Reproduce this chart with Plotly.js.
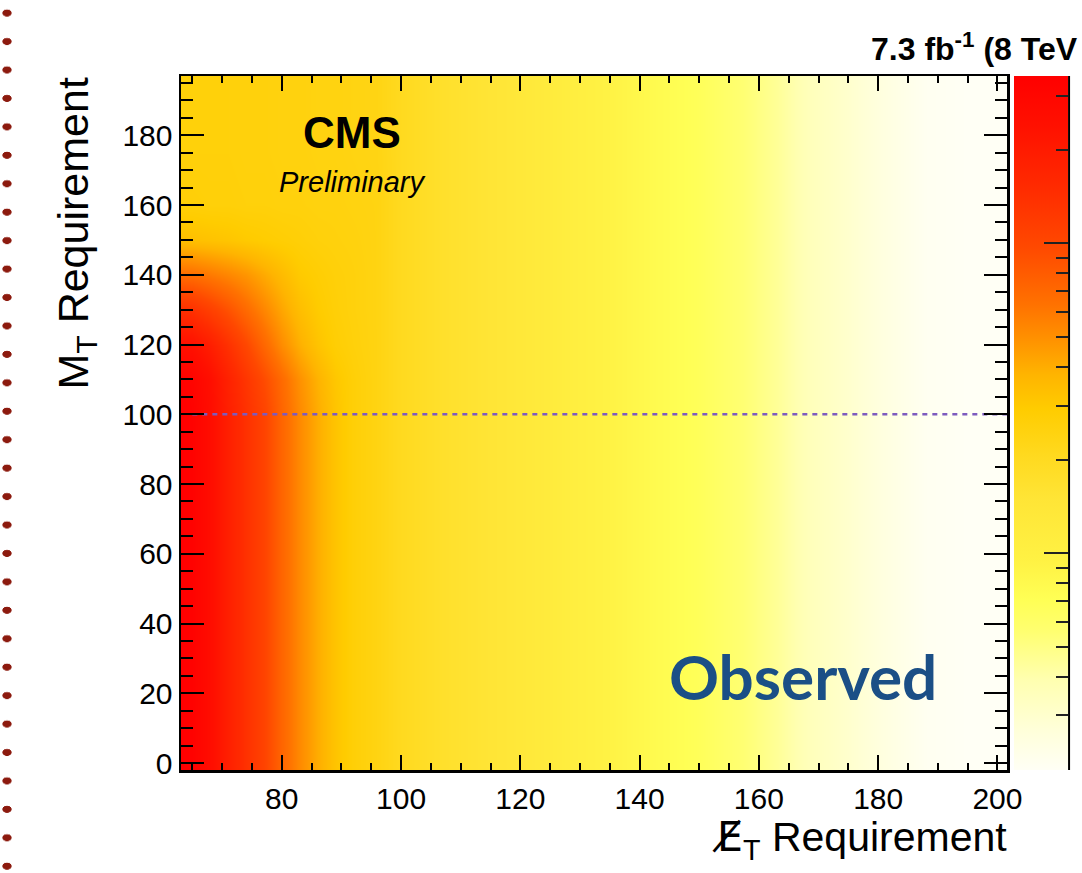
<!DOCTYPE html>
<html>
<head>
<meta charset="utf-8">
<script src="https://cdn.plot.ly/plotly-3.0.1.min.js"></script>
<style>
  html, body { margin: 0; padding: 0; background: #fff; }
  #wrap { position: relative; width: 1082px; height: 873px; }
  #chart { width: 1082px; height: 873px; }
  #dots {
    position: absolute; left: 0; top: 0; width: 14px; height: 873px; pointer-events: none;
    background-image: radial-gradient(5px 3.8px at 7px 14px, #8C1A0E 85%, rgba(140,26,14,0) 100%);
    background-size: 14px 28.45px; background-repeat: repeat-y; background-position: 0 -1px;
  }
</style>
</head>
<body>
<div id="wrap">
  <div id="chart"></div>
  <div id="dots"></div>
</div>
<script>
// MET requirement grid (x) and MT requirement grid (y)
const metReq = [62, 65, 68, 71, 74, 77, 80, 83, 86, 89, 92, 96, 100, 107, 115, 125, 134, 142, 150, 158, 163, 168, 175, 181, 188, 195, 203];
const mtReq = [-5, 50, 100, 110, 120, 130, 140, 150, 160, 175, 200];

const observed = [
  [36, 33, 26, 18.6, 13.8, 10.5, 7.2, 5.2, 4.0, 3.2, 2.7, 2.4, 2.05, 1.72, 1.50, 1.20, 0.95, 0.79, 0.68, 0.54, 0.45, 0.36, 0.30, 0.25, 0.21, 0.20, 0.20],
  [36, 33, 26, 18.6, 13.8, 10.5, 7.2, 5.2, 4.0, 3.2, 2.7, 2.4, 2.05, 1.72, 1.50, 1.20, 0.95, 0.79, 0.68, 0.54, 0.45, 0.36, 0.30, 0.25, 0.21, 0.20, 0.20],
  [36, 33, 26, 18.6, 13.8, 10.5, 7.2, 5.2, 4.0, 3.2, 2.7, 2.4, 2.05, 1.72, 1.50, 1.20, 0.95, 0.79, 0.68, 0.54, 0.45, 0.36, 0.30, 0.25, 0.21, 0.20, 0.20],
  [34, 31.6, 25, 17.8, 12.9, 9.5, 6.8, 4.9, 3.8, 3.1, 2.7, 2.4, 2.05, 1.72, 1.50, 1.20, 0.95, 0.79, 0.68, 0.54, 0.45, 0.36, 0.30, 0.25, 0.21, 0.20, 0.20],
  [25, 24, 19, 13.8, 10, 7.1, 5.1, 3.9, 3.2, 2.8, 2.6, 2.4, 2.05, 1.72, 1.50, 1.20, 0.95, 0.79, 0.68, 0.54, 0.45, 0.36, 0.30, 0.25, 0.21, 0.20, 0.20],
  [14.5, 13.8, 11.2, 8.9, 6.9, 5.4, 4.2, 3.4, 2.95, 2.7, 2.55, 2.4, 2.05, 1.72, 1.50, 1.20, 0.95, 0.79, 0.68, 0.54, 0.45, 0.36, 0.30, 0.25, 0.21, 0.20, 0.20],
  [6.8, 6.6, 6.0, 5.4, 4.8, 4.1, 3.5, 3.0, 2.8, 2.65, 2.55, 2.4, 2.05, 1.72, 1.50, 1.20, 0.95, 0.79, 0.68, 0.54, 0.45, 0.36, 0.30, 0.25, 0.21, 0.20, 0.20],
  [3.4, 3.35, 3.25, 3.15, 3.0, 2.9, 2.8, 2.7, 2.6, 2.55, 2.5, 2.4, 2.05, 1.72, 1.50, 1.20, 0.95, 0.79, 0.68, 0.54, 0.45, 0.36, 0.30, 0.25, 0.21, 0.20, 0.20],
  [2.7, 2.7, 2.65, 2.65, 2.6, 2.6, 2.55, 2.55, 2.5, 2.5, 2.45, 2.4, 2.05, 1.72, 1.50, 1.20, 0.95, 0.79, 0.68, 0.54, 0.45, 0.36, 0.30, 0.25, 0.21, 0.20, 0.20],
  [2.6, 2.6, 2.6, 2.6, 2.55, 2.55, 2.5, 2.5, 2.45, 2.45, 2.4, 2.35, 2.05, 1.72, 1.50, 1.20, 0.95, 0.79, 0.68, 0.54, 0.45, 0.36, 0.30, 0.25, 0.21, 0.20, 0.20],
  [2.6, 2.6, 2.6, 2.6, 2.55, 2.55, 2.5, 2.5, 2.45, 2.45, 2.4, 2.35, 2.05, 1.72, 1.50, 1.20, 0.95, 0.79, 0.68, 0.54, 0.45, 0.36, 0.30, 0.25, 0.21, 0.20, 0.20]
];

// M_T cut line
const cutLineX = [65, 202];
const cutLineY = [100, 100];

// Palette (log) range and tick marks
const paletteLow = 0.2;
const paletteHigh = 34.7;
const paletteMinorTicks = [0.3, 0.4, 0.5, 0.6, 0.7, 0.8, 0.9, 2, 3, 4, 5, 6, 7, 8, 9, 20, 30];
const paletteMajorTicks = [1, 10];

const logZ = observed.map(row => row.map(v => Math.log10(v)));

const palette = [
  [0.00, '#FFFFF5'], [0.06, '#FFFFD8'], [0.13, '#FFFFB0'], [0.20, '#FFFF70'],
  [0.245, '#FFFF55'], [0.30, '#FFF244'], [0.39, '#FFE536'], [0.455, '#FFD91E'],
  [0.52, '#FFCC00'], [0.57, '#FFB400'], [0.62, '#FF9200'], [0.67, '#FF7200'],
  [0.755, '#FF4800'], [0.835, '#FF2C00'], [0.93, '#FF1000'], [1.00, '#FF0000']
];

const cbBase = {
  x: 0.93912, xanchor: 'left', xpad: 0, y: 0.5, yanchor: 'middle', ypad: 0,
  len: 1, lenmode: 'fraction', thickness: 54, thicknessmode: 'pixels',
  outlinewidth: 0, showticklabels: false, tickmode: 'array',
  ticks: 'inside', tickwidth: 2, tickcolor: '#222'
};

const common = {
  type: 'heatmap', x: metReq, y: mtReq, z: logZ,
  zmin: Math.log10(paletteLow), zmax: Math.log10(paletteHigh),
  hoverinfo: 'skip'
};

const heat = Object.assign({}, common, {
  zsmooth: 'best', colorscale: palette, showscale: true,
  colorbar: Object.assign({}, cbBase, { tickvals: paletteMinorTicks.map(v => Math.log10(v)), ticklen: 12 })
});

const heatTicks = Object.assign({}, common, {
  zsmooth: false, colorscale: [[0, 'rgba(0,0,0,0)'], [1, 'rgba(0,0,0,0)']], showscale: true,
  colorbar: Object.assign({}, cbBase, { tickvals: paletteMajorTicks.map(v => Math.log10(v)), ticklen: 24 })
});

const cut = {
  type: 'scatter', mode: 'lines', x: cutLineX, y: cutLineY,
  line: { color: '#7D5BBE', width: 2.5, dash: '5px,5px' },
  hoverinfo: 'skip', showlegend: false
};

const helv = 'Liberation Sans, Arial, Helvetica, sans-serif';
const tickFont = { family: helv, size: 30, color: '#000' };

const layout = {
  width: 1082, height: 873,
  margin: { l: 181, r: 14, t: 76, b: 103, autoexpand: false },
  paper_bgcolor: '#fff', plot_bgcolor: '#fff',
  showlegend: false,
  xaxis: {
    domain: [0, 0.93123], range: [63.1, 201.6], tick0: 0, dtick: 20,
    ticks: 'inside', ticklen: 15, tickwidth: 2, tickcolor: '#000',
    showline: true, linecolor: '#000', linewidth: 2.5, mirror: 'ticks',
    showgrid: false, zeroline: false, tickfont: tickFont,
    minor: { ticks: 'inside', ticklen: 7, tickwidth: 2, tickcolor: '#000', dtick: 5, showgrid: false },
    fixedrange: true
  },
  yaxis: {
    range: [-2, 197], tick0: 0, dtick: 20,
    ticks: 'inside', ticklen: 23, tickwidth: 2, tickcolor: '#000',
    showline: true, linecolor: '#000', linewidth: 2.5, mirror: 'ticks',
    showgrid: false, zeroline: false, tickfont: tickFont,
    minor: { ticks: 'inside', ticklen: 12, tickwidth: 2, tickcolor: '#000', dtick: 5, showgrid: false },
    fixedrange: true
  },
  shapes: [
    { type: 'line', xref: 'paper', yref: 'paper', x0: 1.0012, x1: 1.0012, y0: 0, y1: 1,
      line: { color: '#000', width: 2 } }
  ],
  annotations: [
    { xref: 'paper', yref: 'paper', x: 0.1928, y: 0.918, text: '<b>CMS</b>', showarrow: false,
      xanchor: 'center', yanchor: 'middle', font: { family: helv, size: 44, color: '#000' } },
    { xref: 'paper', yref: 'paper', x: 0.1928, y: 0.847, text: '<i>Preliminary</i>', showarrow: false,
      xanchor: 'center', yanchor: 'middle', font: { family: helv, size: 29, color: '#000' } },
    { xref: 'paper', yref: 'paper', x: 0.7007, y: 0.135, text: '<b>Observed</b>', showarrow: false,
      xanchor: 'center', yanchor: 'middle', font: { family: 'Lato, Open Sans, sans-serif', size: 62, color: '#1B4F86' } },
    { xref: 'paper', yref: 'paper', x: 1.0135, y: 1.0418, text: '<b>7.3 fb<sup>-1</sup> (8 TeV</b>', showarrow: false,
      xanchor: 'right', yanchor: 'middle', font: { family: helv, size: 32, color: '#000' } },
    { xref: 'paper', yref: 'paper', x: -0.1184, y: 0.773, text: 'M<sub>T</sub> Requirement', showarrow: false,
      textangle: -90, xanchor: 'center', yanchor: 'middle', font: { family: helv, size: 43, color: '#000' } },
    { xref: 'paper', yref: 'paper', x: 0.7644, y: -0.0995,
      text: '<span style="font-family:\'DejaVu Sans\'">E\u0338</span><sub>T</sub> Requirement', showarrow: false,
      xanchor: 'center', yanchor: 'middle', font: { family: helv, size: 41, color: '#000' } }
  ]
};

Plotly.newPlot('chart', [heat, heatTicks, cut], layout, { staticPlot: true, displayModeBar: false });
</script>
</body>
</html>
